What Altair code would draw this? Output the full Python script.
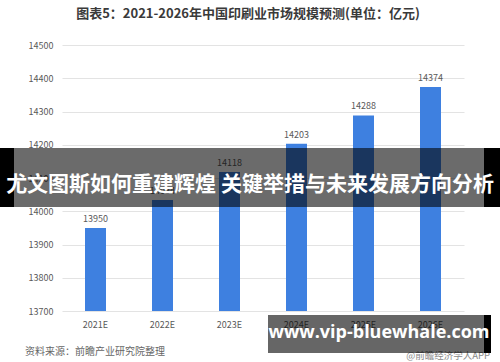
import altair as alt
import pandas as pd

# China printing industry market size forecast, 100 million yuan
years = ["2021E", "2022E", "2023E", "2024E", "2025E", "2026E"]
sizes = [13950, 14034, 14118, 14203, 14288, 14374]
y_ticks = [13700, 13800, 13900, 14000, 14100, 14200, 14300, 14400, 14500]
y_base = 13700

title_text = "图表5：2021-2026年中国印刷业市场规模预测(单位：亿元)"
source_text = "资料来源：前瞻产业研究院整理"
credit_text = "@前瞻经济学人APP"
banner_text = "尤文图斯如何重建辉煌 关键举措与未来发展方向分析"
site_text = "www.vip-bluewhale.com"

df = pd.DataFrame({"year": years, "size": sizes})
one = pd.DataFrame({"k": [0]})

W, H = 402, 266
LEFT, TOP = 62, 45
CJK = "Noto Sans CJK SC"

x_enc = alt.X("year:N", sort=years, title=None,
              axis=alt.Axis(labelAngle=0, ticks=False, domain=False,
                            labelPadding=9, labelFontSize=9,
                            labelColor="#595959", labelFont=CJK))
y_enc = alt.Y("size:Q", title=None,
              scale=alt.Scale(domain=[y_base, 14500], nice=False, zero=False),
              axis=alt.Axis(values=y_ticks, format="d", labelOverlap=False,
                            ticks=False, domain=False,
                            labelPadding=9, labelFontSize=9,
                            labelColor="#595959", labelFont=CJK,
                            gridColor="#E3E3E3", gridWidth=1))

bars = alt.Chart(df).mark_bar(size=21, color="#3E80E0").encode(
    x=x_enc, y=y_enc, y2=alt.datum(y_base))
labels = alt.Chart(df).mark_text(dy=-9, fontSize=9, color="#595959", font=CJK).encode(
    x=x_enc, y=y_enc, text=alt.Text("size:Q", format="d"))


def text_at(txt, x, y, size, color, weight="normal", align="center", font=CJK):
    return alt.Chart(one).mark_text(
        text=txt, fontSize=size, color=color, fontWeight=weight,
        align=align, baseline="middle", font=font
    ).encode(x=alt.value(x), y=alt.value(y))


def box(x0, x1, y0, y1, color, opacity=1.0):
    return alt.Chart(one).mark_rect(color=color, opacity=opacity).encode(
        x=alt.value(x0 - LEFT), x2=alt.value(x1 - LEFT),
        y=alt.value(y0 - TOP), y2=alt.value(y1 - TOP))


title = text_at(title_text, 248 - LEFT, 14 - TOP, 13, "#3a3a3a", "bold")
source = text_at(source_text, 25 - LEFT, 352 - TOP, 10, "#666666", align="left")
credit = text_at(credit_text, 490 - LEFT, 356 - TOP, 9.5, "#888888", align="right")

# overlay banners
band_left = box(0, 14, 148, 207, "#000000")
band_mid = box(14, 484, 148, 207, "#000000", 0.58)
band_right = box(484, 500, 148, 207, "#000000")
band_txt = text_at(banner_text, 250 - LEFT, 185 - TOP, 21, "#ffffff", "bold")

site_mid = box(268, 484, 315, 353, "#000000", 0.6)
site_right = box(484, 491, 315, 353, "#000000")
site_txt = text_at(site_text, 379 - LEFT, 333 - TOP, 18, "#ffffff", "bold", font="Open Sans")

chart = alt.layer(
    bars, labels, title, source, credit,
    band_left, band_mid, band_right, band_txt,
    site_mid, site_right, site_txt
).properties(
    width=W, height=H,
    padding={"left": LEFT, "top": TOP, "right": 500 - LEFT - W, "bottom": 362 - TOP - H},
    autosize=alt.AutoSizeParams(type="none"),
    background="white"
).configure_view(stroke=None)

chart.save("out.html", embed_options={"renderer": "svg", "actions": False})
